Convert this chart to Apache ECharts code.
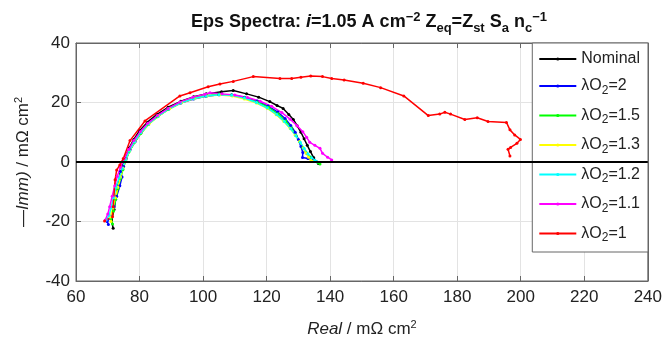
<!DOCTYPE html>
<html>
<head>
<meta charset="utf-8">
<title>Eps Spectra</title>
<script src="https://cdn.jsdelivr.net/npm/echarts@6/dist/echarts.min.js"></script>
<style>
  html, body { margin: 0; padding: 0; background: #fff; }
  #main { width: 665px; height: 348px; }
</style>
</head>
<body>
<div id="main"></div>
<script>
// series names and colours
var names = ['Nominal', 'λO2=2', 'λO2=1.5', 'λO2=1.3', 'λO2=1.2', 'λO2=1.1', 'λO2=1'];
var colors = ['#000000', '#0000ff', '#00ff00', '#ffff00', '#00ffff', '#ff00ff', '#ff0000'];

// [Real, -Imag] points
var nominal = [[71.7,-22.3],[71.2,-19.5],[72.0,-16.0],[72.6,-11.5],[73.2,-7.5],[74.0,-4.0],[74.8,-1.0],[75.6,1.8],[76.8,4.8],[78.2,7.6],[80.0,10.5],[82.5,13.4],[85.5,16.0],[89.0,18.4],[93.0,20.4],[97.0,21.9],[101.0,22.9],[105.8,23.6],[109.5,24.0],[113.7,22.9],[117.5,21.8],[121.0,20.3],[123.3,19.0],[125.2,18.0],[127.0,16.0],[128.4,14.3],[129.6,12.2],[130.8,10.0],[131.8,7.8],[132.8,5.6],[133.8,3.5],[134.8,1.5],[135.6,0.2],[136.3,-0.5]];
var lo2_2 = [[70.2,-21.0],[69.8,-20.0],[71.0,-18.5],[72.0,-15.0],[72.8,-11.5],[73.8,-8.0],[74.5,-5.0],[74.0,-3.2],[75.0,-1.5],[75.8,1.0],[77.0,4.0],[78.6,6.8],[80.5,9.8],[82.8,12.8],[85.8,15.4],[89.2,17.8],[93.0,19.8],[97.0,21.2],[101.0,22.1],[105.0,22.6],[109.0,22.6],[113.0,21.8],[117.0,20.5],[120.5,18.8],[123.5,16.8],[125.8,14.6],[127.6,12.3],[129.0,10.0],[130.0,7.6],[130.8,5.2],[131.4,3.2],[131.3,1.5],[133.0,1.2],[134.2,0.9]];
var lo2_15 = [[71.5,-20.8],[71.0,-19.0],[71.8,-16.5],[72.5,-12.5],[73.2,-9.0],[74.0,-5.5],[74.8,-2.5],[75.6,0.5],[76.8,3.6],[78.4,6.6],[80.4,9.6],[82.8,12.6],[85.6,15.2],[89.0,17.7],[93.0,19.9],[97.0,21.4],[101.0,22.3],[105.0,22.7],[109.0,22.5],[113.0,21.6],[117.0,20.2],[120.6,18.4],[123.6,16.2],[126.0,13.8],[127.8,11.4],[129.2,9.0],[130.4,6.8],[131.4,4.8],[132.5,3.0],[133.8,1.6],[135.0,0.4],[136.2,-0.2],[136.8,-0.7]];
var lo2_13 = [[71.0,-20.0],[70.8,-18.5],[71.6,-15.5],[72.4,-12.0],[73.2,-8.5],[74.0,-5.0],[74.8,-2.0],[75.7,0.8],[76.9,3.8],[78.5,6.8],[80.5,9.8],[83.0,12.8],[86.0,15.5],[89.5,17.9],[93.2,19.9],[97.2,21.3],[101.2,22.2],[105.2,22.5],[109.2,22.2],[113.0,21.2],[116.8,19.8],[120.2,18.0],[123.0,15.9],[125.4,13.6],[127.4,11.3],[129.0,9.0],[130.4,6.9],[131.6,4.8],[132.4,3.0],[133.2,1.6],[134.0,0.6],[134.6,0.2]];
var lo2_12 = [[69.5,-19.5],[70.4,-18.0],[71.0,-15.5],[71.8,-12.0],[72.6,-8.5],[73.6,-5.2],[74.6,-2.2],[75.6,0.8],[76.8,3.8],[78.4,6.8],[80.4,9.8],[82.8,12.8],[85.8,15.4],[89.2,17.8],[93.0,19.9],[97.0,21.3],[101.0,22.2],[105.0,22.6],[109.0,22.4],[113.0,21.5],[116.8,20.0],[120.2,18.2],[123.2,16.0],[125.6,13.6],[127.6,11.2],[129.2,8.8],[130.6,6.6],[131.8,4.6],[133.0,2.8],[134.2,1.4],[135.2,0.6],[135.8,0.1]];
var lo2_11 = [[69.2,-19.5],[70.0,-17.5],[70.6,-15.0],[71.4,-11.5],[72.2,-8.0],[73.0,-4.8],[74.0,-1.8],[75.2,1.2],[76.6,4.2],[78.2,7.2],[80.2,10.2],[82.6,13.0],[85.6,15.6],[89.0,18.0],[92.8,20.2],[96.8,21.8],[100.6,22.8],[102.2,23.3],[106.0,22.9],[110.0,22.5],[114.0,21.7],[118.0,20.4],[121.6,18.7],[124.8,16.6],[127.4,14.4],[129.6,12.2],[131.4,10.2],[132.6,8.3],[133.6,6.6],[135.2,5.6],[136.8,4.6],[137.6,2.9],[139.2,1.6],[140.5,0.7],[140.3,0.2]];
var lo2_1 = [[69.0,-19.8],[71.5,-18.4],[71.7,-15.0],[72.3,-6.0],[72.8,-2.7],[73.8,-1.0],[74.9,1.2],[77.0,7.2],[81.7,13.8],[92.7,22.2],[95.9,23.3],[101.6,25.3],[105.3,26.2],[109.5,27.1],[115.8,28.7],[124.2,28.1],[127.9,28.1],[130.8,28.5],[133.9,28.9],[137.6,28.7],[140.5,28.1],[144.4,27.6],[150.4,26.5],[155.9,25.0],[163.2,22.2],[170.9,15.6],[174.5,16.1],[176.1,16.7],[177.9,16.1],[182.4,14.3],[186.3,14.9],[189.7,13.6],[195.5,13.3],[196.6,10.8],[198.1,9.1],[199.9,7.6],[198.8,6.3],[196.8,4.9],[196.0,4.3],[196.6,2.0]];
var allData = [nominal, lo2_2, lo2_15, lo2_13, lo2_12, lo2_11, lo2_1];

var xTicks = { min: 60, max: 240, interval: 20 };
var yTicks = { min: -40, max: 40, interval: 20 };

var font = 'Liberation Sans, Arial, sans-serif';
var chart = echarts.init(document.getElementById('main'));

var series = names.map(function (n, i) {
  return {
    name: n,
    type: 'line',
    data: allData[i],
    symbol: 'circle',
    symbolSize: 3,
    showSymbol: true,
    color: colors[i],
    lineStyle: { width: 1.5, color: colors[i] },
    itemStyle: { color: colors[i] },
    animation: false
  };
});
// zero line
series[0].markLine = {
  silent: true,
  symbol: 'none',
  label: { show: false },
  lineStyle: { color: '#000', width: 2, type: 'solid' },
  data: [{ yAxis: 0 }]
};
series[0].z = 1;

var gridLine = { show: true, lineStyle: { color: '#e3e3e3', width: 1 } };
var axisLn = { show: true, onZero: false, lineStyle: { color: '#666', width: 1 } };
var tick = { show: true, inside: true, length: 5, lineStyle: { color: '#666' } };
var lbl = { color: '#222', fontSize: 17, fontFamily: font };

var option = {
  backgroundColor: '#fff',
  animation: false,
  title: {
    text: '{b|Eps Spectra: }{i|i}{b|=1.05 A cm}{sup|−2}{b| Z}{sub|eq}{b|=Z}{sub|st}{b| S}{sub|a}{b| n}{sub|c}{sup|−1}',
    left: 364,
    textAlign: 'center',
    top: 5,
    textStyle: {
      rich: {
        b: { fontSize: 18, fontWeight: 'bold', fontFamily: font, color: '#111' },
        i: { fontSize: 18, fontWeight: 'bold', fontStyle: 'italic', fontFamily: font, color: '#111' },
        sup: { fontSize: 13, fontWeight: 'bold', fontFamily: font, color: '#111', padding: [0, 0, 11, 0] },
        sub: { fontSize: 13, fontWeight: 'bold', fontFamily: font, color: '#111', padding: [12, 0, 0, 0] }
      }
    }
  },
  legend: {
    data: names,
    orient: 'vertical',
    right: 17,
    top: 43,
    width: 120,
    backgroundColor: '#fff',
    borderColor: '#666',
    borderWidth: 1,
    padding: [8, 8, 8, 6],
    itemWidth: 37,
    itemHeight: 4,
    itemGap: 11,
    align: 'left',
    formatter: function (name) {
      return name.replace('O2', 'O{s|2}');
    },
    textStyle: {
      fontSize: 16, fontFamily: font, color: '#222',
      rich: { s: { fontSize: 12, fontFamily: font, color: '#222', padding: [9, 0, 0, 0] } }
    }
  },
  grid: { left: 76, right: 17, top: 43, bottom: 67, show: true, borderColor: '#666', borderWidth: 1, backgroundColor: '#fff' },
  xAxis: [{
    type: 'value', min: xTicks.min, max: xTicks.max, interval: xTicks.interval,
    axisLine: axisLn, axisTick: tick, splitLine: gridLine,
    axisLabel: Object.assign({ margin: 8 }, lbl),
    name: '{i|Real}{n| / mΩ cm}{sup|2}',
    nameLocation: 'middle',
    nameGap: 38,
    nameTextStyle: {
      rich: {
        i: { fontSize: 17, fontStyle: 'italic', fontFamily: font, color: '#222' },
        n: { fontSize: 17, fontFamily: font, color: '#222' },
        sup: { fontSize: 11, fontFamily: font, color: '#222', padding: [0, 0, 10, 0] }
      }
    }
  }, {
    type: 'value', position: 'top', min: xTicks.min, max: xTicks.max, interval: xTicks.interval,
    axisLine: axisLn, axisTick: tick, splitLine: { show: false }, axisLabel: { show: false }
  }],
  yAxis: [{
    type: 'value', min: yTicks.min, max: yTicks.max, interval: yTicks.interval,
    axisLine: axisLn, axisTick: tick, splitLine: gridLine,
    axisLabel: Object.assign({ margin: 6 }, lbl),
    name: '{n|—}{i|Imm)}{n| / mΩ cm}{sup|2}',
    nameLocation: 'middle',
    nameGap: 42,
    nameTextStyle: {
      rich: {
        i: { fontSize: 17, fontStyle: 'italic', fontFamily: font, color: '#222' },
        n: { fontSize: 17, fontFamily: font, color: '#222' },
        sup: { fontSize: 11, fontFamily: font, color: '#222', padding: [0, 0, 10, 0] }
      }
    }
  }, {
    type: 'value', position: 'right', min: yTicks.min, max: yTicks.max, interval: yTicks.interval,
    axisLine: axisLn, axisTick: tick, splitLine: { show: false }, axisLabel: { show: false }
  }],
  series: series
};
chart.setOption(option);
</script>
</body>
</html>
